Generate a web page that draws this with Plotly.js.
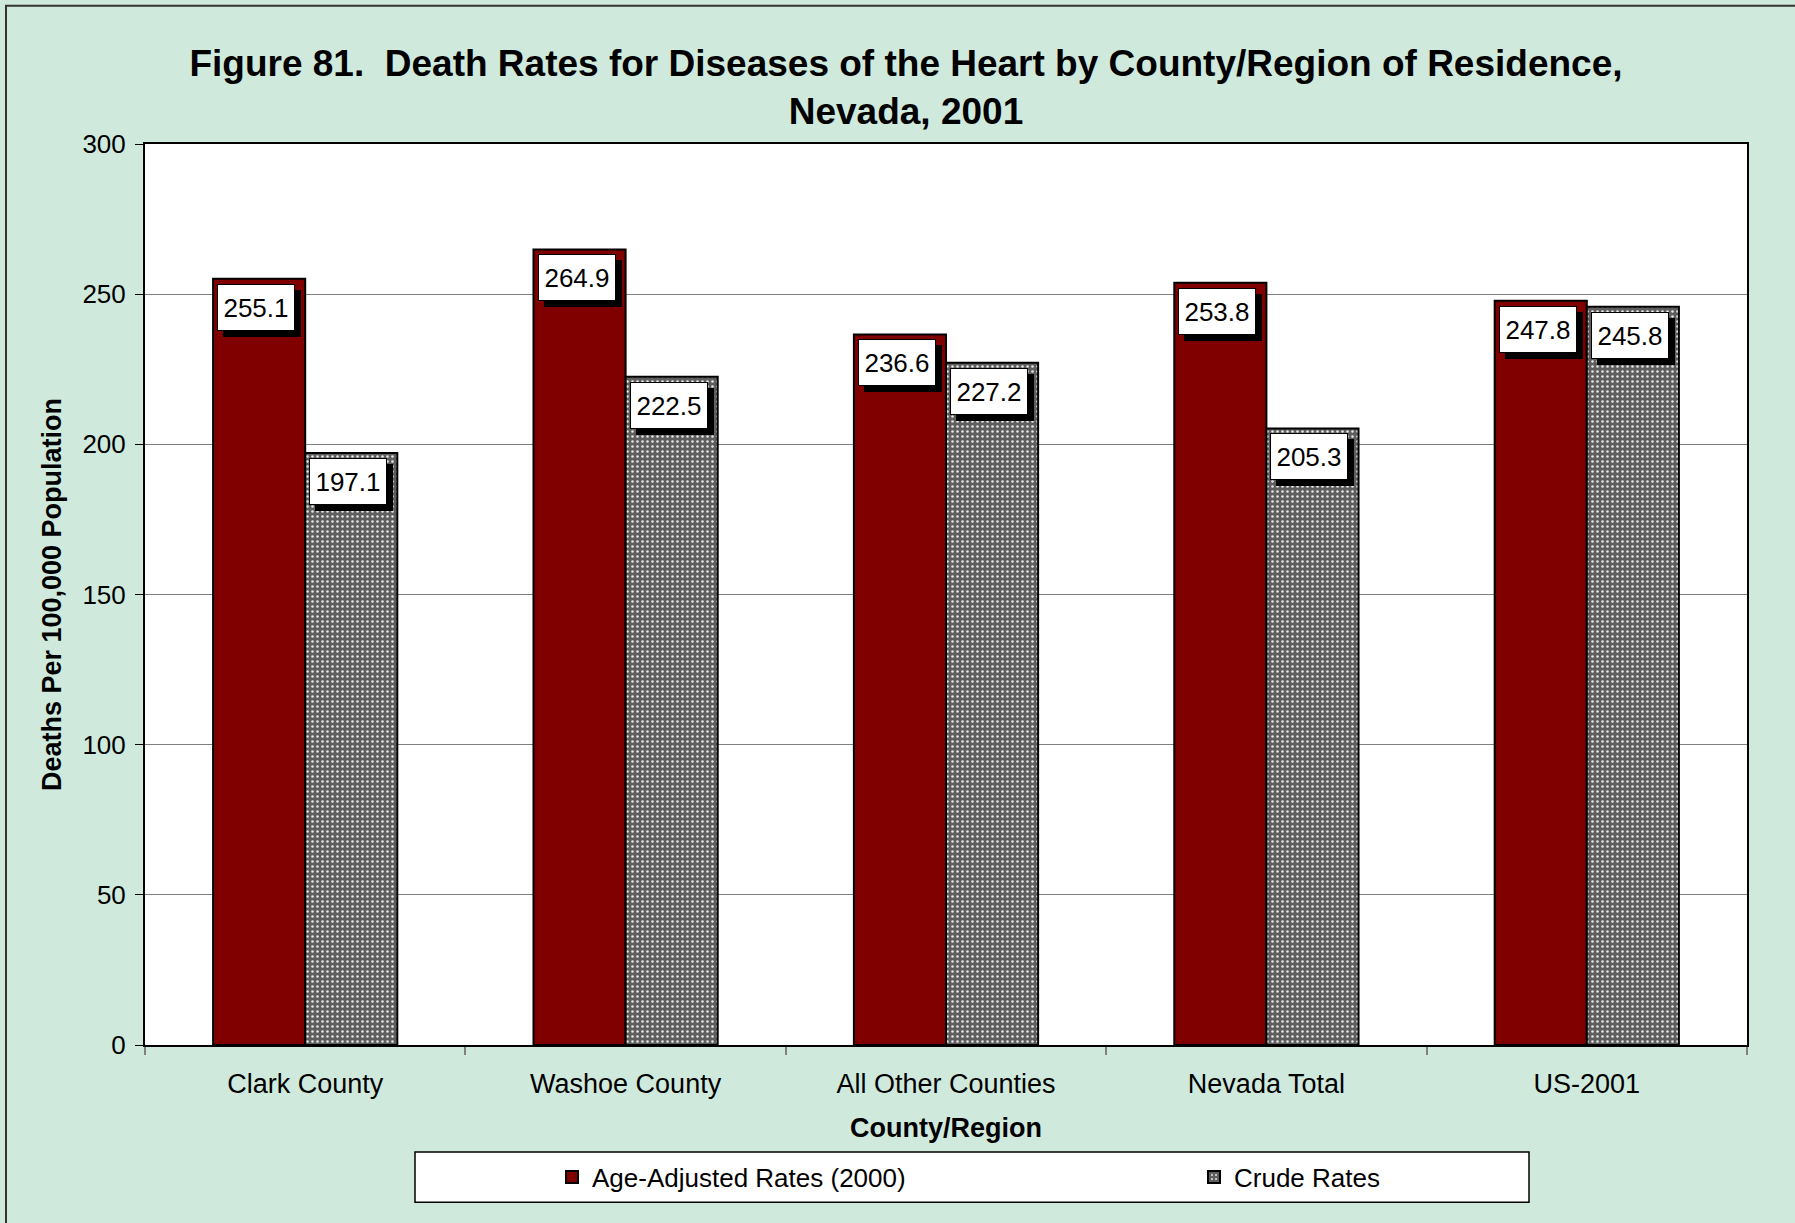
<!DOCTYPE html>
<html>
<head>
<meta charset="utf-8">
<script src="https://cdn.plot.ly/plotly-3.0.1.min.js"></script>
<style>
html,body{margin:0;padding:0;background:#cfeadd;}
#chart{width:1795px;height:1223px;}
</style>
</head>
<body>
<div id="chart"></div>
<script>
const categories = ["Clark County", "Washoe County", "All Other Counties", "Nevada Total", "US-2001"];
const ageAdjusted = [255.1, 264.9, 236.6, 253.8, 247.8];
const crudeRates = [197.1, 222.5, 227.2, 205.3, 245.8];
const seriesNames = ["Age-Adjusted Rates (2000)", "Crude Rates"];
const yTicks = [0, 50, 100, 150, 200, 250, 300];

const FONT = "Liberation Sans, Arial, sans-serif";

const traces = [
  {
    type: "bar", name: seriesNames[0], x: categories, y: ageAdjusted,
    marker: {color: "#800000", line: {color: "#000000", width: 2}},
    legend: "legend", showlegend: true,
    hoverinfo: "x+y"
  },
  {
    type: "bar", name: seriesNames[1], x: categories, y: crudeRates,
    marker: {
      color: "#808080",
      line: {color: "#000000", width: 2},
      pattern: {shape: ".", fgcolor: "#e6e6e6", bgcolor: "#5e5e5e", size: 5, solidity: 0.2}
    },
    legend: "legend2", showlegend: true,
    hoverinfo: "x+y"
  }
];

// data label boxes with drop shadow
const plotW = 1602;
const catW = plotW / categories.length;
const bargap = 0.425;
const barW = catW * (1 - bargap) / 2;
const annotations = [];
function addLabels(vals, side) {
  vals.forEach((v, i) => {
    const xs = side * barW / 2 - 3;
    const common = {
      x: categories[i], y: v, xref: "x", yref: "y",
      showarrow: false,
      xanchor: "center", yanchor: "top",
      width: 68, height: 37, borderpad: 4,
      font: {family: FONT, size: 26, color: "#000000"}
    };
    // shadow box (no text)
    annotations.push(Object.assign({}, common, {
      text: " ",
      xshift: xs + 6, yshift: -11, bgcolor: "#000000", bordercolor: "#000000", borderwidth: 1
    }));
    annotations.push(Object.assign({}, common, {
      text: v.toFixed(1),
      xshift: xs, yshift: -5, bgcolor: "#ffffff", bordercolor: "#000000", borderwidth: 1
    }));
  });
}
addLabels(ageAdjusted, -1);
addLabels(crudeRates, 1);

const legendCommon = {
  orientation: "h",
  yanchor: "middle",
  y: (1045 - 1177) / 900,
  xanchor: "left",
  bgcolor: "rgba(0,0,0,0)",
  borderwidth: 0,
  visible: true,
  font: {family: FONT, size: 26, color: "#000000"}
};

const layout = {
  width: 1795, height: 1223,
  paper_bgcolor: "#cfeadd",
  plot_bgcolor: "#ffffff",
  margin: {l: 145, r: 48, t: 144, b: 178, autoexpand: false},
  font: {family: FONT, color: "#000000"},
  showlegend: true,
  barmode: "group",
  bargap: bargap,
  bargroupgap: 0,
  title: {
    text: "<b>Figure 81.  Death Rates for Diseases of the Heart by County/Region of Residence,<br>Nevada, 2001</b>",
    font: {family: FONT, size: 37, color: "#000000"},
    x: (906 - 145) / 1602, xref: "paper", xanchor: "center",
    y: 1 - 76 / 1223, yref: "container", yanchor: "middle"
  },
  xaxis: {
    type: "category",
    tickfont: {family: FONT, size: 27, color: "#000000"},
    showline: true, linecolor: "#000000", linewidth: 2, mirror: true,
    ticks: "outside", tickson: "boundaries", ticklen: 8, tickcolor: "#808080", tickwidth: 2,
    ticklabelstandoff: 14,
    showgrid: false,
    title: {text: "<b>County/Region</b>", font: {family: FONT, size: 27, color: "#000000"}, standoff: 20},
    automargin: false
  },
  yaxis: {
    range: [0, 300],
    tickvals: yTicks,
    ticktext: yTicks.map(String),
    tickfont: {family: FONT, size: 26, color: "#000000"},
    showline: true, linecolor: "#000000", linewidth: 2, mirror: true,
    ticks: "outside", ticklen: 8, tickcolor: "#000000", tickwidth: 1,
    ticklabelstandoff: 4,
    showgrid: true, gridcolor: "#808080", gridwidth: 1,
    zeroline: false,
    title: {text: "<b>Deaths Per 100,000 Population</b>", font: {family: FONT, size: 27, color: "#000000"}, standoff: 13},
    automargin: false
  },
  legend: Object.assign({}, legendCommon, {x: (552 - 145) / 1602}),
  legend2: Object.assign({}, legendCommon, {x: (1194 - 145) / 1602}),
  shapes: [
    {type: "rect", xref: "paper", yref: "paper",
     x0: (415 - 145) / 1602, x1: (1529 - 145) / 1602,
     y0: (1045 - 1202) / 900, y1: (1045 - 1152) / 900,
     fillcolor: "#ffffff", line: {color: "#000000", width: 1.5}, layer: "below"},
    {type: "rect", xref: "paper", yref: "paper",
     x0: (6 - 145) / 1602, x1: (1810 - 145) / 1602,
     y0: (1045 - 1240) / 900, y1: (1045 - 7) / 900,
     fillcolor: "rgba(0,0,0,0)", line: {color: "#333333", width: 2}, layer: "below"}
  ],
  annotations: annotations
};

Plotly.newPlot("chart", traces, layout, {displayModeBar: false, staticPlot: true});
</script>
</body>
</html>
